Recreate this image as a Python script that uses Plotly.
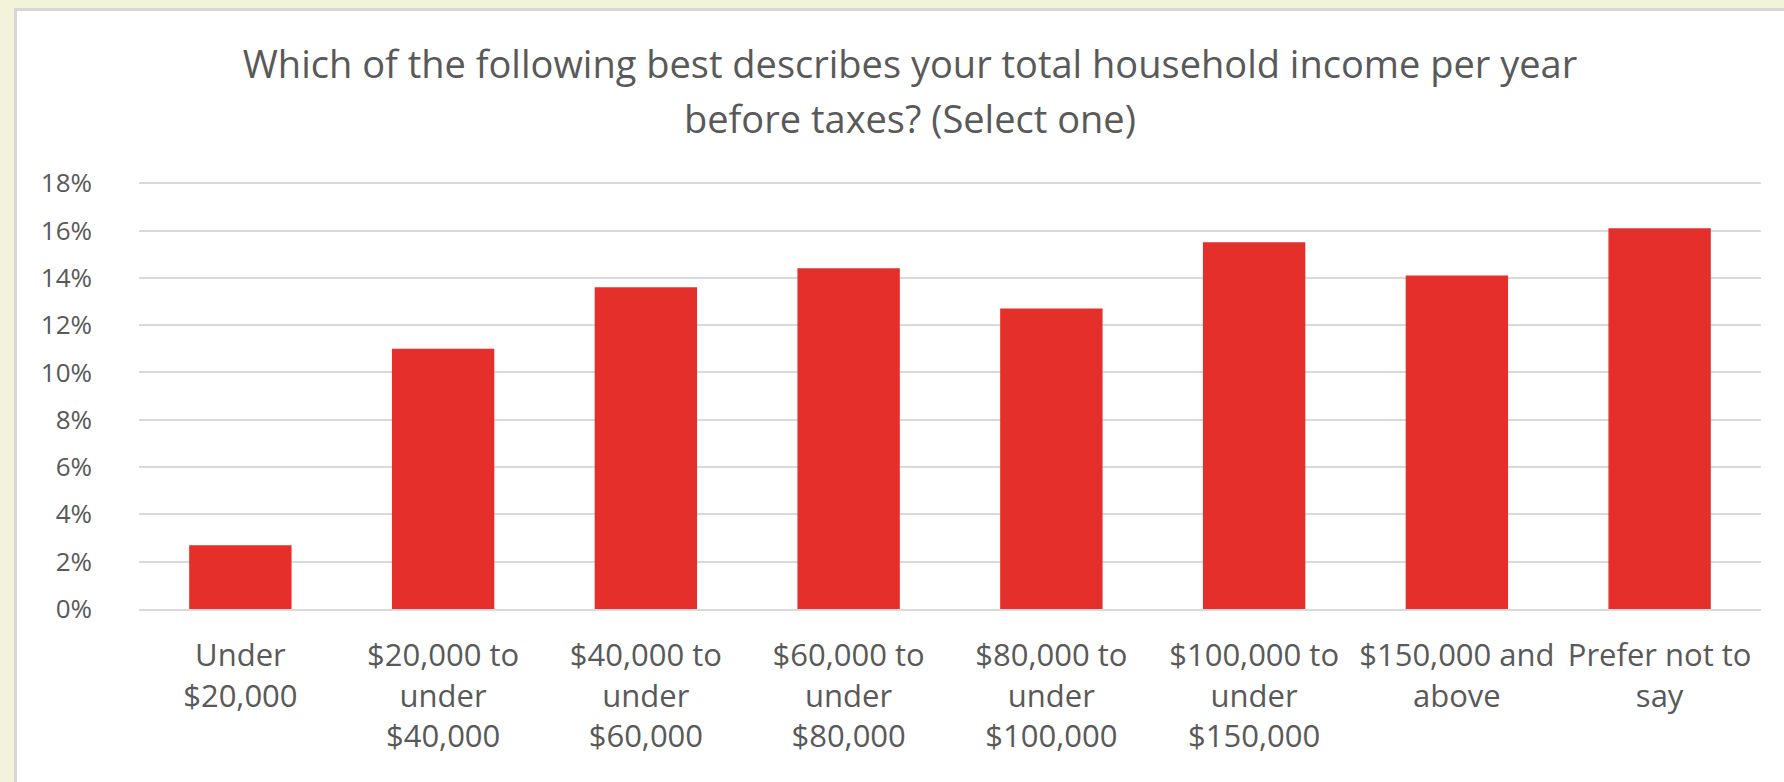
import plotly.graph_objects as go

categories = [
    "Under<br>$20,000",
    "$20,000 to<br>under<br>$40,000",
    "$40,000 to<br>under<br>$60,000",
    "$60,000 to<br>under<br>$80,000",
    "$80,000 to<br>under<br>$100,000",
    "$100,000 to<br>under<br>$150,000",
    "$150,000 and<br>above",
    "Prefer not to<br>say",
]
shares = [0.027, 0.110, 0.136, 0.144, 0.127, 0.155, 0.141, 0.161]
y_ticks = [0, 0.02, 0.04, 0.06, 0.08, 0.10, 0.12, 0.14, 0.16, 0.18]
title_lines = ["Which of the following best describes your total household income per year",
               "before taxes? (Select one)"]

W, H = 1784, 782
L, R, T, B = 139, 23, 182, 173
pw, ph = W - L - R, H - T - B
grey = "#595959"
cream = "#F3F3DC"

fig = go.Figure()
fig.add_trace(go.Bar(x=categories, y=shares, marker_color="#E42F2B",
                     marker_line_width=0))

# white chart panel on a cream page, grey border on top and left only
px = lambda v: (v - L) / pw
py = lambda v: (H - B - v) / ph
fig.add_shape(type="rect", xref="paper", yref="paper", layer="below",
              x0=px(15.5), x1=px(W + 20), y0=py(H + 20), y1=py(9.5),
              fillcolor="white", line_width=0)
fig.add_shape(type="line", xref="paper", yref="paper", layer="below",
              x0=px(15.5), x1=px(W + 20), y0=py(9.5), y1=py(9.5),
              line=dict(color="#D6D6D6", width=3))
fig.add_shape(type="line", xref="paper", yref="paper", layer="below",
              x0=px(15.5), x1=px(15.5), y0=py(8), y1=py(H + 20),
              line=dict(color="#D6D6D6", width=3))

# second title line, placed on its own for Excel-like line spacing
fig.add_annotation(text=title_lines[1], xref="paper", yref="paper",
                   x=px(910), y=py(118),
                   xanchor="center", yanchor="middle", showarrow=False,
                   font=dict(size=38, color=grey))

fig.update_layout(
    width=W, height=H,
    margin=dict(l=L, r=R, t=T, b=B),
    paper_bgcolor=cream, plot_bgcolor="white",
    font=dict(family="Open Sans", color=grey),
    title=dict(text=title_lines[0],
               x=910 / W, xanchor="center", xref="container",
               y=1 - 65 / H, yanchor="middle", yref="container",
               font=dict(size=38, color=grey)),
    bargap=0.495,
    showlegend=False,
)
fig.update_yaxes(range=[0, 0.1805], tickvals=y_ticks, tickformat=".0%",
                 showgrid=True, gridcolor="#D9D9D9", gridwidth=2,
                 zeroline=False, showline=False,
                 tickfont=dict(size=26, color=grey), ticklabelstandoff=46)
fig.update_xaxes(showline=True, linecolor="#D9D9D9", linewidth=2,
                 tickfont=dict(size=31, color=grey), ticklabelstandoff=18)

fig.write_html("out.html", config={"displayModeBar": False},
               post_script="document.body.style.margin='0';"
                           f"document.body.style.background='{cream}';")
